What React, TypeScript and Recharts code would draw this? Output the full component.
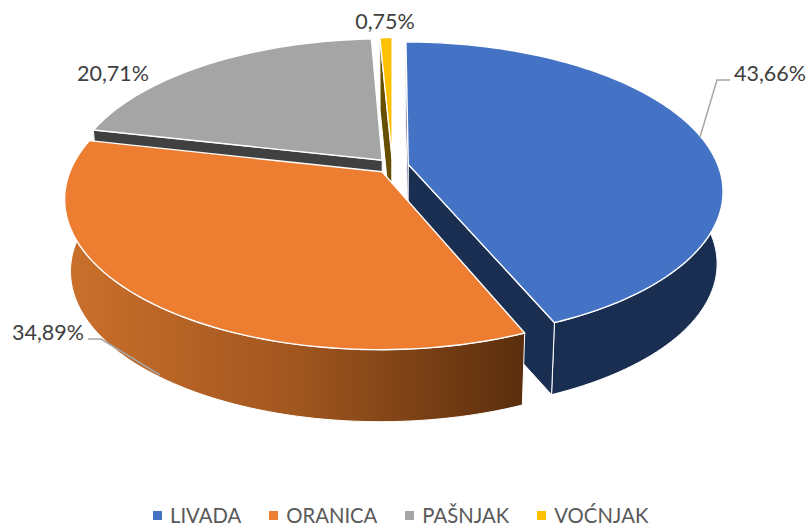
import React from "react";
import { PieChart, Pie, Legend } from "recharts";

// ---- data (in clockwise order from 12 o'clock: LIVADA, ORANICA, PAŠNJAK, VOĆNJAK)
const categories = ["LIVADA", "ORANICA", "PAŠNJAK", "VOĆNJAK"];
const shares = [43.66, 34.89, 20.71, 0.75];
const labels = ["43,66%", "34,89%", "20,71%", "0,75%"];

// ---- styles
const topColors = ["#4472C4", "#ED7D31", "#A5A5A5", "#FFC000"];
const cutColors = ["#1A2E52", "#5C2F0E", "#404040", "#665000"];
const wallColors = ["#1A2E52", "url(#orangeWall)", "#404040", "#665000"];
const labelPos: [number, number][] = [[770, 73], [48, 332], [113, 73], [385, 21]];
const leaders: (string | null)[] = ["M700 137 L717 80 L730 80", "M160 375 L101 339 L88 339", null, null];
const FONT = "Lato, 'Open Sans', sans-serif";

// Painter's order: LIVADA first, then round counter-clockwise so ORANICA lies over LIVADA's cut face.
const drawOrder = [0, 3, 2, 1];
const rows = drawOrder.map((i) => ({ name: categories[i], value: shares[i], idx: i, fill: topColors[i] }));
const total = shares.reduce((s, v) => s + v, 0);
const firstAngle = 90 - (360 * shares[0]) / total;

// ---- projection of the pie disk (u,v unit disk, z 0 = top, 1 = bottom)
const CX = 392.5, CY = 166, R = 310, A = 144.5, K = 0.175, DEPTH = 72, SHRINK = 0.018, EXPLODE = 0.052;
const project = (u: number, v: number, z: number): [number, number] => {
  const w = 1 - K * v;
  return [CX + (R * u / w) * (1 - SHRINK * z), CY + (A * v) / w + DEPTH * z];
};
const rad = (d: number) => (d * Math.PI) / 180;
const pathOf = (pts: [number, number][]) =>
  "M" + pts.map((p) => p[0].toFixed(2) + " " + p[1].toFixed(2)).join(" L") + " Z";

function Slice3D(props: any) {
  const idx: number = props.payload?.idx ?? props.idx;
  // recharts angles: counter-clockwise degrees from 3 o'clock -> clockwise degrees from 12
  const a0 = 90 - props.endAngle;
  const a1 = 90 - props.startAngle;
  const mid = (a0 + a1) / 2;
  const ox = EXPLODE * Math.sin(rad(mid));
  const oy = -EXPLODE * Math.cos(rad(mid));
  const rim = (deg: number, z: number) => project(ox + Math.sin(rad(deg)), oy - Math.cos(rad(deg)), z);
  const apex = (z: number) => project(ox, oy, z);
  const n = Math.max(2, Math.ceil((a1 - a0) / 1.5));
  const angles = Array.from({ length: n + 1 }, (_, i) => a0 + ((a1 - a0) * i) / n);
  const topArc = angles.map((d) => rim(d, 0));
  const botArc = angles.map((d) => rim(d, 1));
  const top = apex(0);
  const midRim = rim(mid, 0);
  const cutFace = (deg: number) => {
    const r = rim(deg, 0);
    const ex = r[0] - top[0], ey = r[1] - top[1];
    const inner = ex * (midRim[1] - top[1]) - ey * (midRim[0] - top[0]);
    const down = ex * DEPTH;
    if (inner * down >= 0) return null;
    return (
      <path
        d={pathOf([top, r, rim(deg, 1), apex(1)])}
        fill={cutColors[idx]}
        stroke="#fff"
        strokeWidth={1}
        strokeLinejoin="round"
      />
    );
  };
  return (
    <g>
      <defs>
        <linearGradient id="orangeWall" gradientUnits="userSpaceOnUse" x1="66" y1="0" x2="525" y2="0">
          <stop offset="0" stopColor="#CB702C" />
          <stop offset="0.5" stopColor="#A1561F" />
          <stop offset="1" stopColor="#5A2E0D" />
        </linearGradient>
      </defs>
      <path
        d={pathOf([...topArc, ...[...botArc].reverse()])}
        fill={wallColors[idx]}
        stroke="#fff"
        strokeWidth={1}
        strokeLinejoin="round"
      />
      {cutFace(a0)}
      {cutFace(a1)}
      <path
        d={pathOf([top, ...topArc])}
        fill={topColors[idx]}
        stroke="#fff"
        strokeWidth={1.4}
        strokeLinejoin="round"
      />
    </g>
  );
}

function SliceLabel(props: any) {
  const idx: number = props.payload?.idx ?? props.idx;
  const [x, y] = labelPos[idx];
  const leader = leaders[idx];
  return (
    <g>
      {leader && <path d={leader} fill="none" stroke="#A6A6A6" strokeWidth={1.5} />}
      <text x={x} y={y} textAnchor="middle" dominantBaseline="central" fontFamily={FONT} fontSize={21.5} fill="#404040">
        {labels[idx]}
      </text>
    </g>
  );
}

function LegendRow() {
  const gaps = [0, 28, 28, 28];
  return (
    <div style={{ display: "flex", justifyContent: "flex-start", paddingLeft: 153, fontFamily: FONT, fontSize: 20.3, color: "#595959", lineHeight: "26px" }}>
      {categories.map((c, i) => (
        <div key={c} style={{ display: "flex", alignItems: "center", marginLeft: gaps[i] }}>
          <span style={{ width: 9, height: 9, background: topColors[i], marginRight: 8, display: "inline-block" }} />
          <span>{c}</span>
        </div>
      ))}
    </div>
  );
}

export default function App() {
  return (
    <div style={{ position: "absolute", left: 0, top: 0, width: 810, height: 532, background: "#fff" }}>
      <PieChart width={810} height={532} margin={{ top: 0, right: 0, bottom: 0, left: 0 }}>
        <Pie
          data={rows}
          dataKey="value"
          nameKey="name"
          cx={391}
          cy={195}
          outerRadius={150}
          startAngle={firstAngle}
          endAngle={firstAngle + 360}
          stroke="none"
          isAnimationActive={false}
          shape={Slice3D}
          label={SliceLabel}
          labelLine={false}
        />
        <Legend content={<LegendRow />} verticalAlign="bottom" wrapperStyle={{ bottom: 4 }} />
      </PieChart>
    </div>
  );
}
